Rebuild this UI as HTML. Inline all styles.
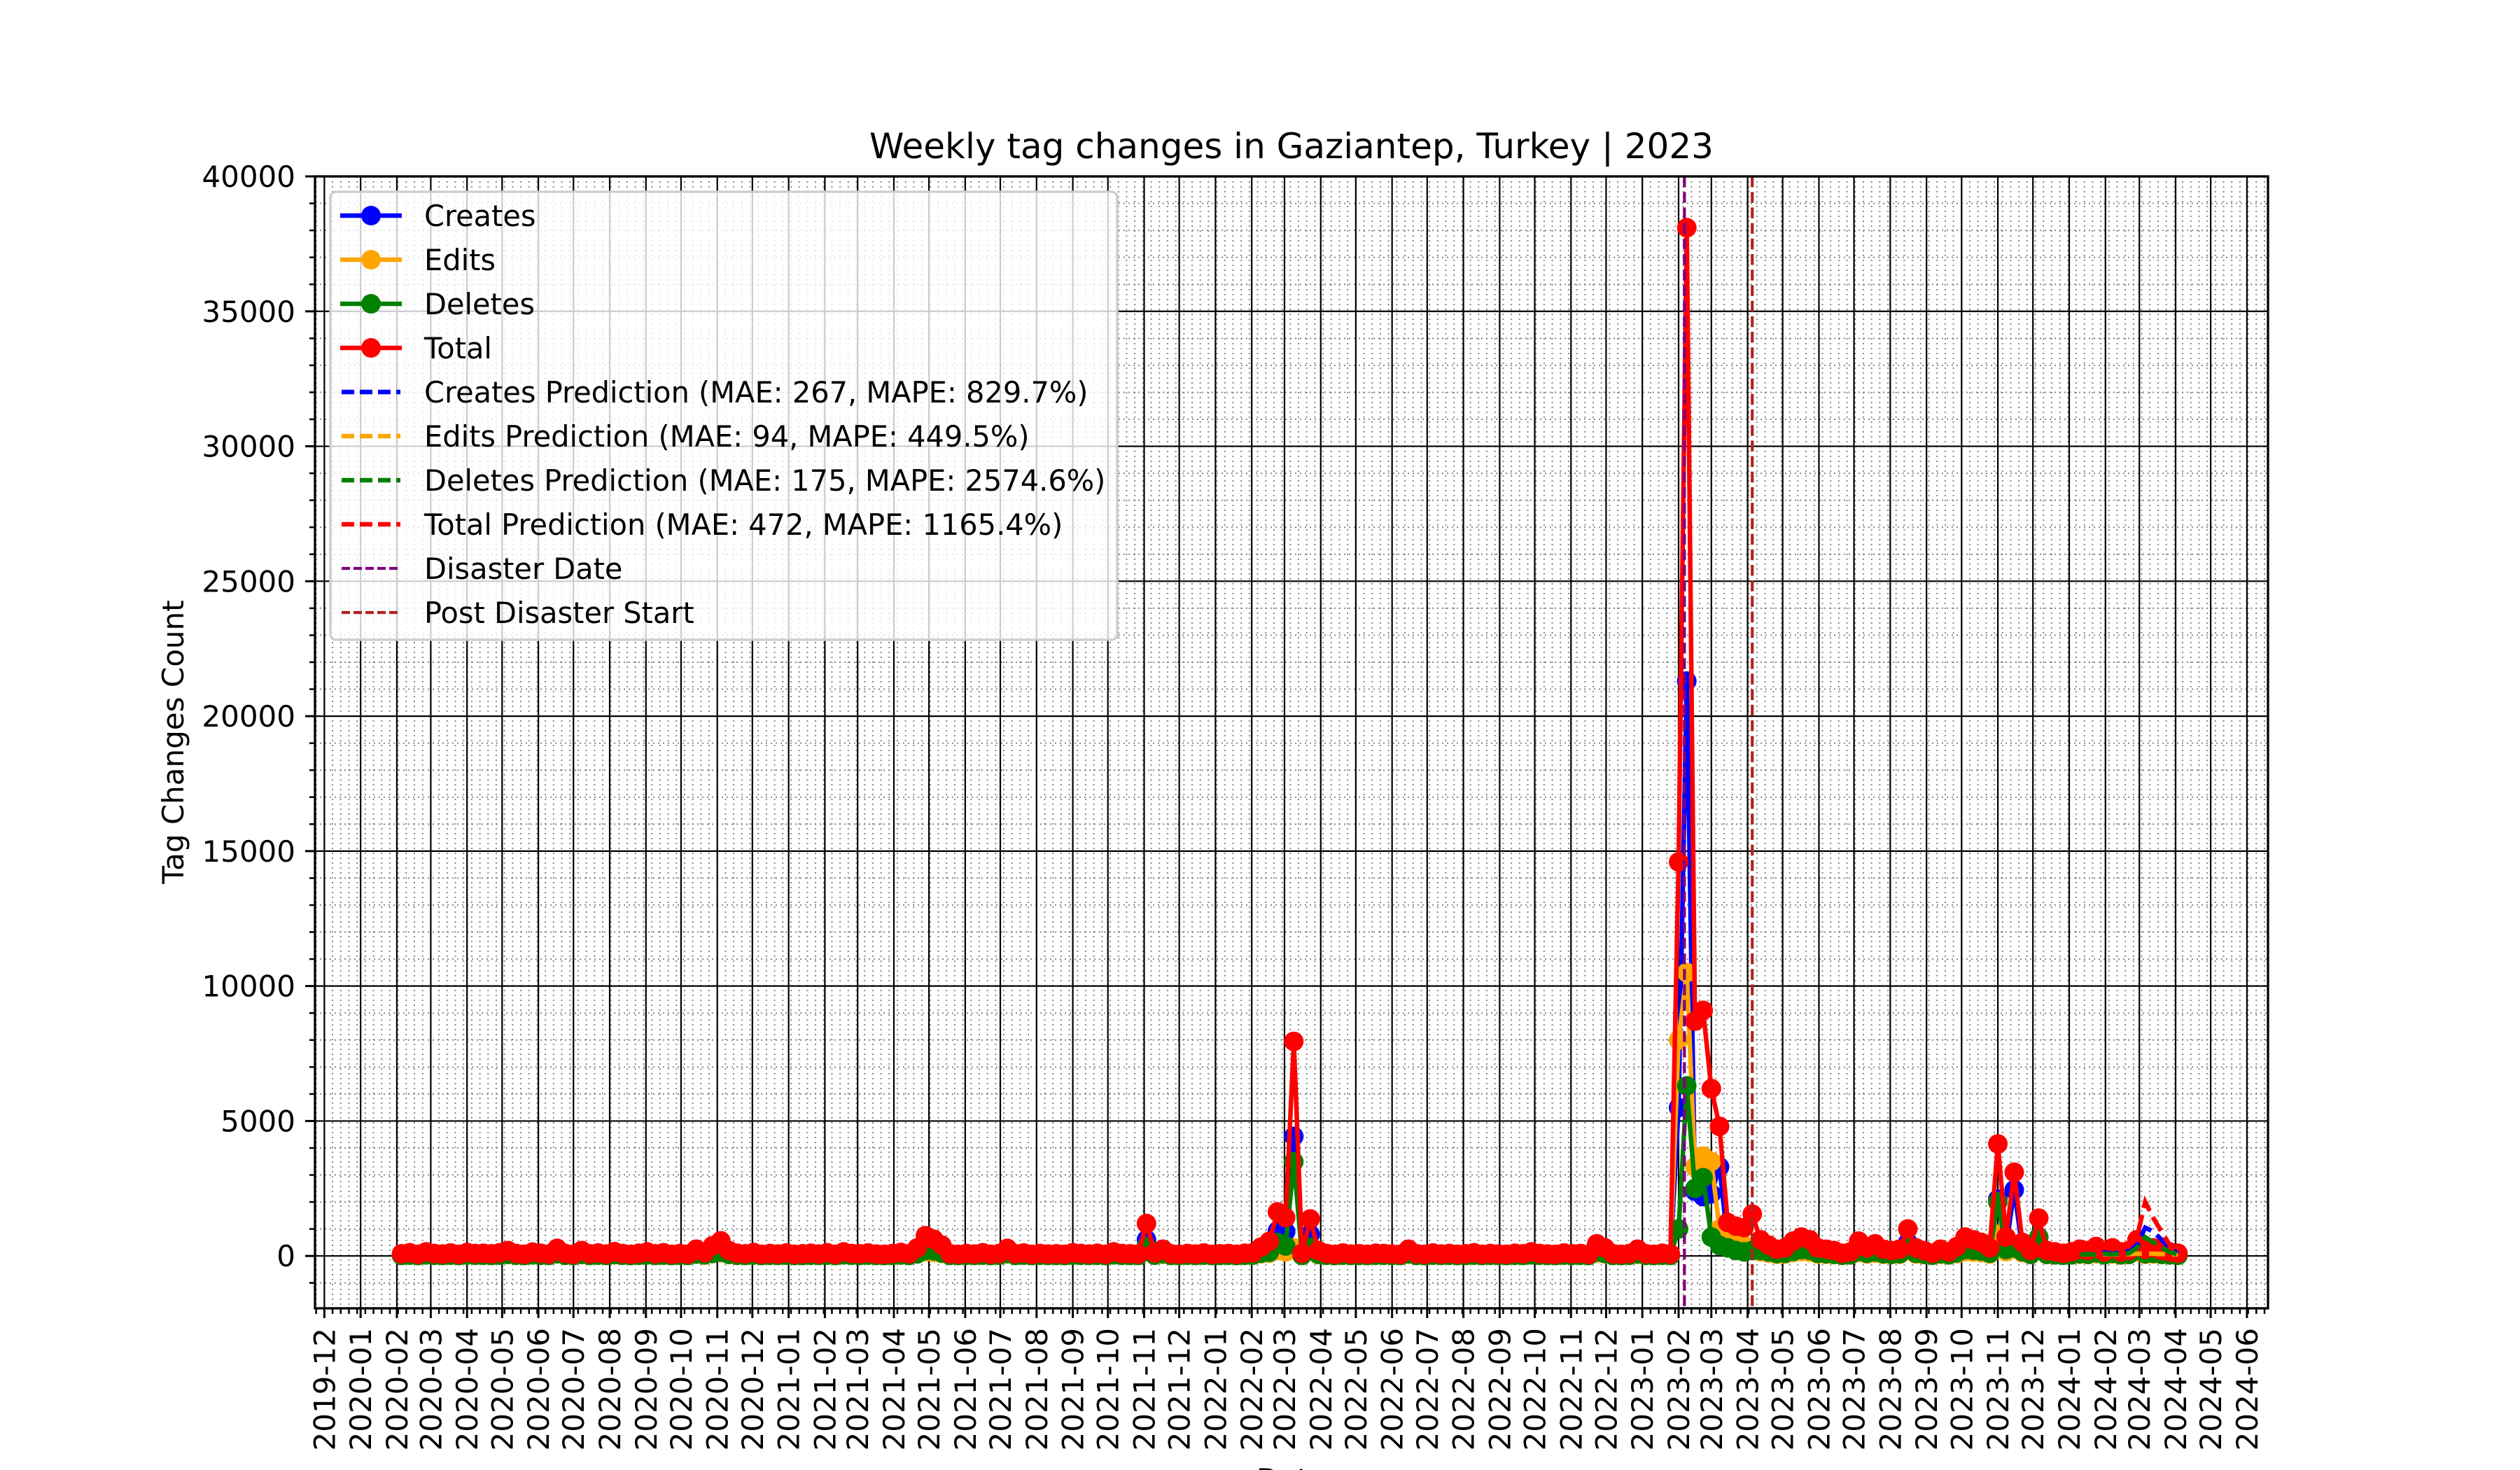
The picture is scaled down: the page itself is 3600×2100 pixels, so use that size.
<!DOCTYPE html>
<html><head><meta charset="utf-8"><title>Weekly tag changes in Gaziantep, Turkey | 2023</title>
<style>
html,body{margin:0;padding:0;background:#fff;}
svg{display:block;font-family:"DejaVu Sans","Liberation Sans",sans-serif;}
</style></head>
<body>
<svg id="chart" xmlns="http://www.w3.org/2000/svg" width="3600" height="2100" viewBox="0 0 3600 2100">
<rect x="0" y="0" width="3600" height="2100" fill="#fff"/>
<g id="grid"></g>
<g id="series"></g>
<g id="axes"></g>
<text x="1845" y="226" font-size="50" text-anchor="middle">Weekly tag changes in Gaziantep, Turkey | 2023</text>
<text transform="translate(262,1060) rotate(-90)" font-size="42" text-anchor="middle">Tag Changes Count</text>
<text x="1845" y="2128" font-size="42" text-anchor="middle">Date</text>
<g id="legend"></g>
</svg>
<script>
// ---- data ----
const startDate = "2020-02-05"; // first weekly point
const totalValues = [80,120,60,150,90,70,110,60,130,90,
100,80,120,200,90,60,140,100,70,280,
90,60,200,80,110,70,160,90,60,100,
150,80,120,60,90,70,250,120,380,560,
200,100,80,130,60,90,70,110,60,80,
100,70,120,60,150,90,80,110,70,60,
90,130,80,300,750,620,400,80,60,90,
70,120,60,90,280,80,110,60,90,70,
80,60,120,90,70,100,60,150,90,80,
70,1200,110,250,80,60,90,70,110,60,
80,90,60,100,120,330,540,1630,1420,7950,
100,1370,200,90,60,110,70,80,60,100,
90,70,60,250,80,60,110,70,90,60,
80,120,60,90,70,60,100,80,150,90,
70,60,110,80,90,60,450,300,80,60,
90,250,80,60,100,70,14600,38100,8700,9100,
6200,4800,1240,1100,1050,1550,600,400,250,300,
550,700,600,300,250,200,100,150,550,300,
450,250,200,250,1000,300,200,100,250,150,
350,700,600,500,300,4150,700,3100,500,200,
1400,200,150,100,150,250,200,350,150,300,
150,200,600,250,300,200,150,100];
const createsValues = [40,60,30,70,40,30,50,30,60,40,
50,40,60,90,40,30,60,50,30,120,
40,30,90,40,50,30,70,40,30,50,
70,40,60,30,40,30,110,50,200,300,
90,50,40,60,30,40,30,50,30,40,
50,30,60,30,70,40,40,50,30,30,
40,60,40,150,400,300,200,40,30,40,
30,60,30,40,120,40,50,30,40,30,
40,30,60,40,30,50,30,70,40,40,
30,600,50,110,40,30,40,30,50,30,
40,40,30,50,60,150,300,930,900,4430,
60,800,90,40,30,50,30,40,30,50,
40,30,30,110,40,30,50,30,40,30,
40,60,30,40,30,30,50,40,70,40,
30,30,50,40,40,30,200,130,40,30,
40,110,40,30,50,30,5500,21300,2400,2200,
2300,3300,500,300,300,200,250,150,100,130,
250,300,250,130,110,90,50,70,250,130,
200,110,90,110,500,130,90,50,110,70,
150,300,250,200,130,2100,300,2450,220,90,
400,90,70,50,70,110,90,150,70,130,
70,90,250,110,130,90,70,50];
const editsValues = [20,30,15,40,25,20,30,15,35,25,
25,20,30,50,25,15,40,25,20,80,
25,15,50,20,30,20,40,25,15,25,
40,20,30,15,25,20,70,30,90,120,
50,25,20,35,15,25,20,30,15,20,
25,20,30,15,40,25,20,30,20,15,
25,35,20,70,150,130,90,20,15,25,
20,30,15,25,70,20,30,15,25,20,
20,15,30,25,20,25,15,40,25,20,
20,250,30,60,20,15,25,20,30,15,
20,25,15,25,30,80,100,200,150,300,
20,250,50,25,15,30,20,20,15,25,
25,20,15,60,20,15,30,20,25,15,
20,30,15,25,20,15,25,20,40,25,
20,15,30,20,25,15,100,80,20,15,
25,60,20,15,25,20,8000,10500,3300,3700,
3500,1000,700,500,400,300,150,100,60,70,
130,160,140,70,60,50,25,40,130,70,
100,60,50,60,200,70,50,25,60,40,
80,160,140,120,70,800,160,250,120,50,
300,50,40,25,40,60,50,80,40,70,
40,50,140,60,70,50,40,25];
const deletesValues = [20,30,15,40,25,20,30,15,35,25,
25,20,30,60,25,15,40,25,20,80,
25,15,60,20,30,20,50,25,15,25,
40,20,30,15,25,20,70,40,90,140,
60,25,20,35,15,25,20,30,15,20,
25,20,30,15,40,25,20,30,20,15,
25,35,20,80,200,190,110,20,15,25,
20,30,15,25,90,20,30,15,25,20,
20,15,30,25,20,25,15,40,25,20,
20,350,30,80,20,15,25,20,30,15,
20,25,15,25,30,100,140,500,370,3490,
20,320,60,25,15,30,20,20,15,25,
25,20,15,80,20,15,30,20,25,15,
20,30,15,25,20,15,25,20,40,25,
20,15,30,20,25,15,150,90,20,15,
25,80,20,15,25,20,1000,6300,2500,2900,
700,390,300,200,150,200,200,150,90,100,
170,240,210,100,80,60,25,40,170,100,
150,80,60,80,300,100,60,25,80,40,
120,240,210,180,100,2000,240,300,160,60,
700,60,40,25,40,80,60,120,40,100,
40,60,210,80,100,60,40,25];
const predStartIndex = 205;
const totalPred =   [200,250,200,300,250,300,350,700,2000,1400,900,400,100];
const createsPred = [100,120,100,150,120,150,200,400,1050,900,600,300,80];
const editsPred =   [50,60,50,60,50,60,70,80,90,80,70,60,50];
const deletesPred = [50,60,50,80,60,80,100,300,700,500,300,150,50];
const disasterDate = "2023-02-06";
const postDisasterStart = "2023-04-05";
const yTicks = [0,5000,10000,15000,20000,25000,30000,35000,40000];
const xTickStart = "2019-12-01";
const xTickCount = 55;
const xMinDate = "2019-11-23";
const xMaxDate = "2024-06-19";
const yMin = -1940, yMax = 40000;

// ---- scales ----
const PL=450, PR=3240, PT=252, PB=1869;
const NS="http://www.w3.org/2000/svg";
function day(s){return Date.UTC(+s.slice(0,4),+s.slice(5,7)-1,+s.slice(8,10))/86400000;}
const d0=day(xMinDate), d1=day(xMaxDate);
function xS(d){return PL+(d-d0)/(d1-d0)*(PR-PL);}
function yS(v){return PB-(v-yMin)/(yMax-yMin)*(PB-PT);}
function mk(tag,attrs,parent){const e=document.createElementNS(NS,tag);for(const k in attrs)e.setAttribute(k,attrs[k]);parent.appendChild(e);return e;}
const grid=document.getElementById('grid'),series=document.getElementById('series'),axes=document.getElementById('axes'),legend=document.getElementById('legend');

const defs=mk('defs',{},document.getElementById('chart'));
const cp=mk('clipPath',{id:'plotclip'},defs);
mk('rect',{x:PL,y:PT,width:PR-PL,height:PB-PT},cp);
series.setAttribute('clip-path','url(#plotclip)');

// minor grid x: weekly
const sd=day(startDate);
for(let d=day("2019-11-24"); d<=d1; d+=7){ if(d<d0) continue;
  const x=xS(d);
  const l=mk('line',{x1:x,x2:x,y1:PT,y2:PB,stroke:'#888',"stroke-width":2,"stroke-dasharray":"2 5"},grid);
  
  
  const t=mk('line',{x1:x,x2:x,y1:PB,y2:PB+8,stroke:'#000',"stroke-width":2.5},axes);
  
  
}
// minor grid y
for(let v=-1000; v<=yMax; v+=1000){ if(v%5000===0) continue;
  const y=yS(v);
  const l=mk('line',{x1:PL,x2:PR,y1:y,y2:y,stroke:'#888',"stroke-width":2,"stroke-dasharray":"2 5"},grid);
  
  
  const t=mk('line',{x1:PL-8,x2:PL,y1:y,y2:y,stroke:'#000',"stroke-width":2.5},axes);
  
  
}
// major x
const y0=+xTickStart.slice(0,4), m0=+xTickStart.slice(5,7)-1;
for(let i=0;i<xTickCount;i++){
  const yy=y0+Math.floor((m0+i)/12), mm=(m0+i)%12;
  const lab=yy+'-'+String(mm+1).padStart(2,'0');
  const x=xS(day(lab+'-01'));
  const l=mk('line',{x1:x,x2:x,y1:PT,y2:PB,stroke:'#000',"stroke-width":2.2},grid);
  
  
  const t=mk('line',{x1:x,x2:x,y1:PB,y2:PB+14,stroke:'#000',"stroke-width":3},axes);
  
  
  const tx=mk('text',{transform:`translate(${x+15},${PB+28}) rotate(-90)`,"font-size":42,"text-anchor":"end"},axes);
  tx.textContent=lab;
  
  
}
// major y
yTicks.forEach(v=>{
  const y=yS(v);
  const l=mk('line',{x1:PL,x2:PR,y1:y,y2:y,stroke:'#000',"stroke-width":2.2},grid);
  
  
  const t=mk('line',{x1:PL-14,x2:PL,y1:y,y2:y,stroke:'#000',"stroke-width":3},axes);
  
  
  const tx=mk('text',{x:PL-28,y:y+15,"font-size":42,"text-anchor":"end"},axes);
  tx.textContent=String(v);
  
  
});
const sp=mk('rect',{x:PL,y:PT,width:PR-PL,height:PB-PT,fill:'none',stroke:'#000',"stroke-width":3.3},axes);



function drawSeries(vals,color,name){
  const pts=vals.map((v,i)=>[xS(sd+7*i),yS(v)]);
  const g=mk('g',{},series);
  
  
  const p=mk('polyline',{points:pts.map(p=>p.join(',')).join(' '),fill:'none',stroke:color,"stroke-width":6.5,"stroke-linejoin":"round"},g);
  
  
  pts.forEach(pt=>{
    const c=mk('circle',{cx:pt[0],cy:pt[1],r:14,fill:color},g);
    
    
  });
}
function drawPred(vals,color,name){
  const pts=vals.map((v,i)=>[xS(sd+7*(predStartIndex+i)),yS(v)].join(','));
  const p=mk('polyline',{points:pts.join(' '),fill:'none',stroke:color,"stroke-width":6.5,"stroke-dasharray":"23 10"},series);
  
  
}
drawSeries(createsValues,'#0000ff','creates');
drawSeries(editsValues,'#ffa500','edits');
drawSeries(deletesValues,'#008000','deletes');
drawSeries(totalValues,'#ff0000','total');
drawPred(createsPred,'#0000ff','creates');
drawPred(editsPred,'#ffa500','edits');
drawPred(deletesPred,'#008000','deletes');
drawPred(totalPred,'#ff0000','total');
const dx=xS(day(disasterDate));
const dl=mk('line',{x1:dx,x2:dx,y1:PT,y2:PB,stroke:'#800080',"stroke-width":4.2,"stroke-dasharray":"15.5 6.7"},series);


const px=xS(day(postDisasterStart));
const pl=mk('line',{x1:px,x2:px,y1:PT,y2:PB,stroke:'#b22222',"stroke-width":4.2,"stroke-dasharray":"15.5 6.7"},series);



const lb=mk('rect',{x:472,y:274,width:1124,height:640,rx:8,fill:'rgba(255,255,255,0.8)',stroke:'#cccccc',"stroke-width":3.3},legend);


const entries=[
 ['Creates','#0000ff','m'],['Edits','#ffa500','m'],['Deletes','#008000','m'],['Total','#ff0000','m'],
 ['Creates Prediction (MAE: 267, MAPE: 829.7%)','#0000ff','d'],
 ['Edits Prediction (MAE: 94, MAPE: 449.5%)','#ffa500','d'],
 ['Deletes Prediction (MAE: 175, MAPE: 2574.6%)','#008000','d'],
 ['Total Prediction (MAE: 472, MAPE: 1165.4%)','#ff0000','d'],
 ['Disaster Date','#800080','v'],['Post Disaster Start','#b22222','v']];
entries.forEach((e,i)=>{
  const y=308+i*63;
  const g=mk('g',{},legend);
  
  
  if(e[2]==='m'){
    mk('line',{x1:486,x2:574,y1:y,y2:y,stroke:e[1],"stroke-width":6.5},g);
    mk('circle',{cx:530,cy:y,r:14,fill:e[1]},g);
  }else if(e[2]==='d'){
    mk('line',{x1:488,x2:572,y1:y,y2:y,stroke:e[1],"stroke-width":6.5,"stroke-dasharray":"18 8"},g);
  }else{
    mk('line',{x1:488,x2:572,y1:y,y2:y,stroke:e[1],"stroke-width":4.2,"stroke-dasharray":"12 5"},g);
  }
  const t=mk('text',{x:606,y:y+15,"font-size":41.5},g);
  t.textContent=e[0];
});
</script>
</body></html>
